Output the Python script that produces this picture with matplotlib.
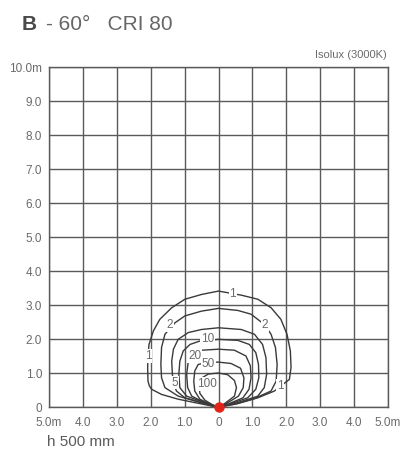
import matplotlib
matplotlib.use("Agg")
import matplotlib.pyplot as plt

plt.rcParams['font.family'] = ['Liberation Sans', 'DejaVu Sans']

# isolux curves (x in m, y in m)
c1_x = [0, -0.2, -0.7, -1.19, -1.68, -1.97, -2.04, -2.08, -2.09, -2.08, -2.05, -1.92, -1.73, -1.38, -0.99, -0.5, 0,
        0.67, 1.16, 1.55, 1.84, 2.02, 2.12, 2.14, 2.09, 1.84, 1.65, 1.16, 0.57, 0.08, 0]
c1_y = [0, 0.03, 0.13, 0.23, 0.37, 0.52, 0.62, 0.76, 1.16, 1.5, 1.84, 2.24, 2.58, 2.92, 3.17, 3.31, 3.41,
        3.29, 3.17, 2.92, 2.58, 2.14, 1.65, 1.16, 0.81, 0.62, 0.47, 0.27, 0.1, 0.01, 0]

c2_x = [0, -0.21, -0.7, -1.19, -1.58, -1.68, -1.7, -1.68, -1.58, -1.28, -0.99, -0.5, 0,
        0.57, 0.96, 1.35, 1.55, 1.68, 1.73, 1.7, 1.55, 1.06, 0.47, 0]
c2_y = [0, 0.04, 0.18, 0.32, 0.57, 0.86, 1.25, 1.75, 2.14, 2.48, 2.68, 2.82, 2.9,
        2.84, 2.73, 2.43, 2.14, 1.75, 1.25, 0.76, 0.47, 0.25, 0.08, 0]

c5_x = [0, -0.5, -0.99, -1.24, -1.33, -1.36, -1.38, -1.33, -1.19, -0.89, -0.5, 0,
        0.67, 1.06, 1.3, 1.4, 1.42, 1.35, 1.16, 0.57, 0]
c5_y = [0, 0.13, 0.27, 0.47, 0.7, 0.96, 1.35, 1.7, 1.99, 2.19, 2.28, 2.33,
        2.28, 2.14, 1.84, 1.45, 0.96, 0.57, 0.32, 0.13, 0]

c10_x = [0, -0.5, -0.94, -1.14, -1.17, -1.14, -1.04, -0.84, -0.55, 0,
         0.57, 0.91, 1.1, 1.18, 1.19, 1.1, 0.86, 0.37, 0]
c10_y = [0, 0.16, 0.32, 0.57, 0.96, 1.35, 1.65, 1.84, 1.94, 1.99,
         1.96, 1.84, 1.6, 1.25, 0.86, 0.52, 0.27, 0.1, 0]

c20_x = [0, -0.4, -0.79, -0.91, -0.94, -0.89, -0.75, -0.5, 0,
         0.47, 0.81, 0.94, 0.96, 0.9, 0.72, 0.27, 0]
c20_y = [0, 0.12, 0.32, 0.57, 0.96, 1.35, 1.57, 1.67, 1.7,
         1.67, 1.5, 1.21, 0.86, 0.52, 0.27, 0.08, 0]

c50_x = [0, -0.2, -0.55, -0.7, -0.73, -0.7, -0.6, -0.3, 0,
         0.37, 0.65, 0.75, 0.73, 0.59, 0.23, 0]
c50_y = [0, 0.06, 0.23, 0.47, 0.76, 1.06, 1.25, 1.32, 1.32,
         1.28, 1.14, 0.86, 0.57, 0.32, 0.1, 0]

c100_x = [0, -0.15, -0.4, -0.55, -0.57, -0.5, -0.3, 0, 0.27, 0.47, 0.53, 0.47, 0.18, 0]
c100_y = [0, 0.05, 0.2, 0.4, 0.65, 0.85, 0.97, 1.0, 0.95, 0.78, 0.57, 0.32, 0.1, 0]

curves = [(c1_x, c1_y), (c2_x, c2_y), (c5_x, c5_y), (c10_x, c10_y),
          (c20_x, c20_y), (c50_x, c50_y), (c100_x, c100_y)]

# labels on the curves
label_text = ['1', '1', '1', '2', '2', '5', '10', '20', '50', '100']
label_x = [0.42, -2.08, 1.82, -1.44, 1.37, -1.28, -0.32, -0.7, -0.3, -0.35]
label_y = [3.33, 1.5, 0.63, 2.4, 2.4, 0.72, 2.0, 1.5, 1.27, 0.67]

x_ticks = [-5, -4, -3, -2, -1, 0, 1, 2, 3, 4, 5]
x_tick_labels = ['5.0m', '4.0', '3.0', '2.0', '1.0', '0', '1.0', '2.0', '3.0', '4.0', '5.0m']
y_ticks = [0, 1, 2, 3, 4, 5, 6, 7, 8, 9, 10]
y_tick_labels = ['0', '1.0', '2.0', '3.0', '4.0', '5.0', '6.0', '7.0', '8.0', '9.0', '10.0m']

grid_col = '#5a5a5a'
text_col = '#6a6a6a'

fig = plt.figure(figsize=(4.05, 4.53), dpi=100)
ax = fig.add_axes([49/405, 1 - 407/453, 339/405, 340/453])

for cx, cy in curves:
    ax.plot(cx, cy, color='#3a3a3a', lw=1.0, zorder=3, solid_joinstyle='round')

for t, lx, ly in zip(label_text, label_x, label_y):
    ax.text(lx, ly, t, fontsize=8.5, color=text_col, ha='center', va='center', zorder=4,
            bbox=dict(facecolor='white', edgecolor='none', pad=0.6))

ax.plot([0], [0], 'o', color='#e2231a', ms=6.5, zorder=5, clip_on=False)

ax.set_xlim(-5, 5)
ax.set_ylim(0, 10)
ax.set_xticks(x_ticks)
ax.set_xticklabels(x_tick_labels)
ax.set_yticks(y_ticks)
ax.set_yticklabels(y_tick_labels)
ax.grid(True, color=grid_col, lw=1.0)
ax.set_axisbelow(True)
for s in ax.spines.values():
    s.set_color(grid_col)
    s.set_linewidth(1.0)
ax.tick_params(length=0, labelsize=8.5, labelcolor=text_col)
ax.tick_params(axis='x', pad=7)
ax.tick_params(axis='y', pad=5)

fig.text(22/405, 1 - 30/453, 'B', fontsize=15, fontweight='bold', color='#4a4a4a', va='baseline')
fig.text(46/405, 1 - 30/453, '- 60°   CRI 80', fontsize=15, color='#666666', va='baseline')
fig.text(387/405, 1 - 58/453, 'Isolux (3000K)', fontsize=8, color=text_col, ha='right', va='baseline')
fig.text(47/405, 1 - 446/453, 'h 500 mm', fontsize=11, color='#5a5a5a', va='baseline')

fig.savefig('out.png', dpi=100)
